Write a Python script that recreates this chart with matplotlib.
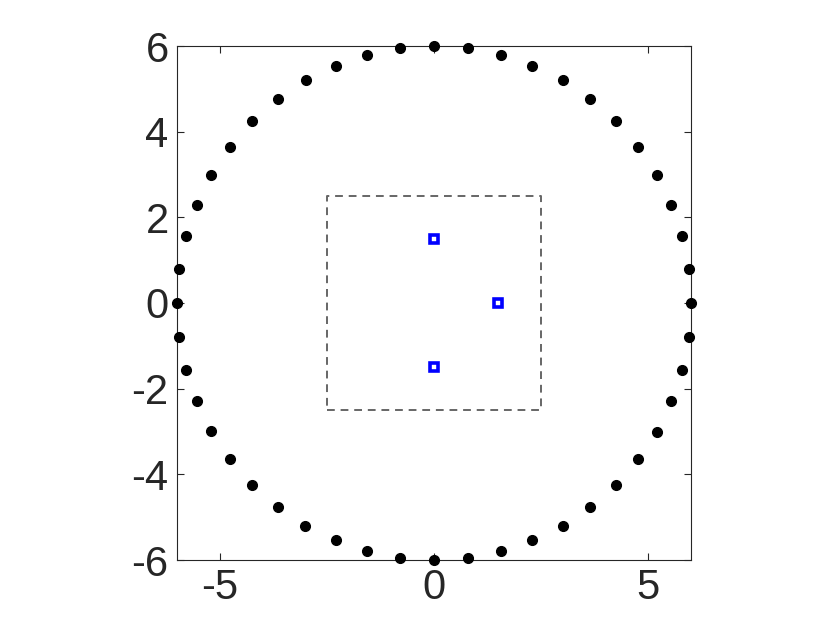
import numpy as np
import matplotlib.pyplot as plt

plt.rcParams['font.family'] = ['Liberation Sans', 'DejaVu Sans']
plt.rcParams['axes.unicode_minus'] = False

# points on the outer circle
radius = 6
n_pts = 48
theta = np.arange(n_pts) * 2 * np.pi / n_pts
circ_x = radius * np.cos(theta)
circ_y = radius * np.sin(theta)

# sources (blue squares)
src_x = [0, 1.5, 0]
src_y = [1.5, 0, -1.5]

# dashed box
box_x = [-2.5, 2.5, 2.5, -2.5, -2.5]
box_y = [-2.5, -2.5, 2.5, 2.5, -2.5]

fig = plt.figure(figsize=(8.4, 6.3), dpi=100)
ax = fig.add_axes([177/840, 1 - 560/630, 514/840, 514/630])

ax.plot(box_x, box_y, '--', color='#666666', lw=1.4, dashes=(4, 3))
ax.plot(circ_x, circ_y, 'o', color='k', ms=7, clip_on=False, zorder=3)
ax.plot(src_x, src_y, 's', mfc='none', mec='#0000ff', ms=6, mew=2.6)

ax.set_xlim(-6, 6)
ax.set_ylim(-6, 6)
ax.set_xticks([-5, 0, 5])
ax.set_yticks([-6, -4, -2, 0, 2, 4, 6])
ax.tick_params(direction='in', length=5, width=0.8, labelsize=30,
               colors='#262626', top=True, right=True, pad=6)
for s in ax.spines.values():
    s.set_color('#262626')
    s.set_linewidth(0.8)

fig.savefig('out.png', dpi=100)
